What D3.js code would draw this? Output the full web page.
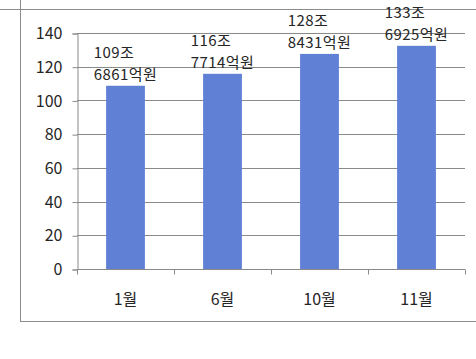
<!DOCTYPE html>
<html>
<head>
<meta charset="utf-8">
<script src="https://cdn.jsdelivr.net/npm/d3@7"></script>
<style>
  body { margin: 0; background: #fff; }
  text { font-family: "Noto Sans CJK KR", "Noto Sans", sans-serif; fill: #262626; }
</style>
</head>
<body>
<div id="chart"></div>
<script>
// data (bar heights as drawn)
var months = ["1월", "6월", "10월", "11월"];
var values = [108.7, 115.8, 127.6, 132.4];
var labelTop = ["109조", "116조", "128조", "133조"];
var labelBottom = ["6861억원", "7714억원", "8431억원", "6925억원"];
var yTicks = [0, 20, 40, 60, 80, 100, 120, 140];

var width = 476, height = 359;
var margin = { top: 33, right: 11, bottom: 90, left: 77 };

var svg = d3.select("#chart")
  .append("svg")
  .attr("width", width)
  .attr("height", height);

// outer frame (only the left, top and bottom edges are visible)
svg.append("line").attr("x1", 0).attr("x2", width).attr("y1", 9.5).attr("y2", 9.5)
  .attr("stroke", "#8c8c8c");
svg.append("line").attr("x1", 20.5).attr("x2", 20.5).attr("y1", 0).attr("y2", 321)
  .attr("stroke", "#8c8c8c");
svg.append("line").attr("x1", 20).attr("x2", width).attr("y1", 321.5).attr("y2", 321.5)
  .attr("stroke", "#8c8c8c");

var x = d3.scaleBand()
  .domain(months)
  .range([margin.left, width - margin.right])
  .paddingInner(0.6)
  .paddingOuter(0.3);

var xb = d3.scaleBand()
  .domain(months)
  .range([margin.left, width - margin.right]);

var y = d3.scaleLinear()
  .domain([0, 140])
  .range([height - margin.bottom, margin.top]);

var g = svg.append("g");

// gridlines
g.selectAll("line.grid")
  .data(yTicks)
  .enter()
  .append("line")
  .attr("class", "grid")
  .attr("x1", margin.left)
  .attr("x2", width - margin.right)
  .attr("y1", function (d) { return Math.round(y(d)) + 0.5; })
  .attr("y2", function (d) { return Math.round(y(d)) + 0.5; })
  .attr("stroke", "#8a8a8a");

// bars
g.selectAll("rect.bar")
  .data(values)
  .enter()
  .append("rect")
  .attr("class", "bar")
  .attr("x", function (d, i) { return x(months[i]); })
  .attr("width", x.bandwidth())
  .attr("y", function (d) { return y(d); })
  .attr("height", function (d) { return y(0) - y(d); })
  .attr("fill", "#5f80d5");

// y axis
var yAxis = svg.append("g")
  .attr("transform", "translate(" + (margin.left + 0.5) + ",0.5)")
  .call(d3.axisLeft(y).tickValues(yTicks).tickSize(5).tickPadding(10));
yAxis.selectAll("path, line").attr("stroke", "#8a8a8a");
yAxis.selectAll("text").style("font-size", "16px").attr("fill", "#262626");

// x axis: ticks at category boundaries
var xAxis = svg.append("g")
  .attr("transform", "translate(0," + (Math.round(y(0)) + 0.5) + ")");
xAxis.append("line")
  .attr("x1", margin.left).attr("x2", width - margin.right)
  .attr("stroke", "#8a8a8a");
xAxis.selectAll("line.tick")
  .data(months.concat(["end"]))
  .enter()
  .append("line")
  .attr("class", "tick")
  .attr("x1", function (d, i) { return Math.round(margin.left + i * xb.bandwidth()) + 0.5; })
  .attr("x2", function (d, i) { return Math.round(margin.left + i * xb.bandwidth()) + 0.5; })
  .attr("y1", 0).attr("y2", 5)
  .attr("stroke", "#8a8a8a");
xAxis.selectAll("text")
  .data(months)
  .enter()
  .append("text")
  .attr("x", function (d) { return xb(d) + xb.bandwidth() / 2; })
  .attr("y", 35)
  .attr("text-anchor", "middle")
  .style("font-size", "16px")
  .text(function (d) { return d; });

// data labels: two left-aligned lines, block centred on the bar
var labels = g.selectAll("g.label")
  .data(values)
  .enter()
  .append("g")
  .attr("class", "label");

labels.each(function (d, i) {
  var lg = d3.select(this);
  var t1 = lg.append("text").attr("x", 0).attr("y", -22).style("font-size", "15px")
    .attr("letter-spacing", "0.4px").text(labelTop[i]);
  var t2 = lg.append("text").attr("x", 0).attr("y", 0).style("font-size", "15px")
    .attr("letter-spacing", "0.4px").text(labelBottom[i]);
  var w = Math.max(t1.node().getBBox().width, t2.node().getBBox().width);
  var cx = x(months[i]) + x.bandwidth() / 2;
  lg.attr("transform", "translate(" + (cx - w / 2) + "," + (y(d) - 6) + ")");
});
</script>
</body>
</html>
